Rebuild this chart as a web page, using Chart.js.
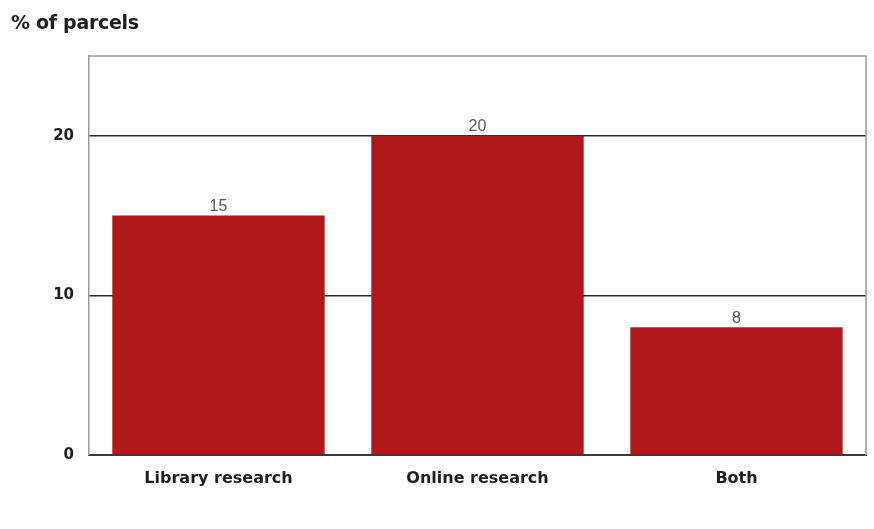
<!DOCTYPE html>
<html>
<head>
<meta charset="utf-8">
<script src="https://cdn.jsdelivr.net/npm/chart.js@4"></script>
<style>
  html, body { margin: 0; padding: 0; background: #ffffff; }
  #wrap { position: relative; width: 874px; height: 529px; }
  #title { position: absolute; left: 11px; top: 11px; font: bold 19px "DejaVu Sans", Verdana, sans-serif; color: #1e1e1e; letter-spacing: -0.3px; }
</style>
</head>
<body>
<div id="wrap">
  <div id="title">% of parcels</div>
  <canvas id="c" width="874" height="529"></canvas>
</div>
<script>
const categories = ["Library research", "Online research", "Both"];
const shares = [15, 20, 8];
const yTicks = [0, 10, 20];

const labelFont = '"DejaVu Sans", Verdana, sans-serif';

// value labels above each bar
const barValues = {
  id: 'barValues',
  afterDatasetsDraw(chart) {
    const ctx = chart.ctx;
    const meta = chart.getDatasetMeta(0);
    ctx.save();
    ctx.font = '16px "Liberation Sans", Arial, sans-serif';
    ctx.fillStyle = '#5a5a5a';
    ctx.textAlign = 'center';
    ctx.textBaseline = 'bottom';
    meta.data.forEach((bar, i) => {
      ctx.fillText(String(shares[i]), bar.x, bar.y - 1);
    });
    ctx.restore();
  }
};

// light frame on the top and right of the plot area
const frame = {
  id: 'frame',
  beforeDatasetsDraw(chart) {
    const { ctx, chartArea: a } = chart;
    ctx.save();
    ctx.strokeStyle = '#9a9a9a';
    ctx.lineWidth = 1.5;
    ctx.beginPath();
    ctx.moveTo(a.left, a.top);
    ctx.lineTo(a.right, a.top);
    ctx.lineTo(a.right, a.bottom);
    ctx.stroke();
    ctx.restore();
  }
};

new Chart(document.getElementById('c'), {
  type: 'bar',
  data: {
    labels: categories,
    datasets: [{
      data: shares,
      backgroundColor: '#b0191b',
      borderWidth: 0,
      categoryPercentage: 0.82,
      barPercentage: 1.0
    }]
  },
  options: {
    responsive: false,
    animation: false,
    layout: { padding: { left: 0, right: 8, top: 56, bottom: 0 } },
    plugins: { legend: { display: false }, tooltip: { enabled: false } },
    scales: {
      x: {
        grid: { display: false, drawTicks: false },
        border: { display: true, color: '#3a3a3a', width: 2 },
        ticks: {
          padding: 14,
          color: '#1e1e1e',
          font: { family: labelFont, size: 16, weight: 'bold' }
        },
        afterFit(s) { s.height = 74; }
      },
      y: {
        min: 0,
        max: 25,
        afterBuildTicks(s) { s.ticks = yTicks.map(v => ({ value: v })); },
        grid: { color: '#2a2a2a', lineWidth: 1.4, drawTicks: false },
        border: { display: true, color: '#9a9a9a', width: 1.5 },
        ticks: {
          padding: 15,
          color: '#1e1e1e',
          font: { family: labelFont, size: 15, weight: 'bold' }
        },
        afterFit(s) { s.width = 89; }
      }
    }
  },
  plugins: [frame, barValues]
});
</script>
</body>
</html>
